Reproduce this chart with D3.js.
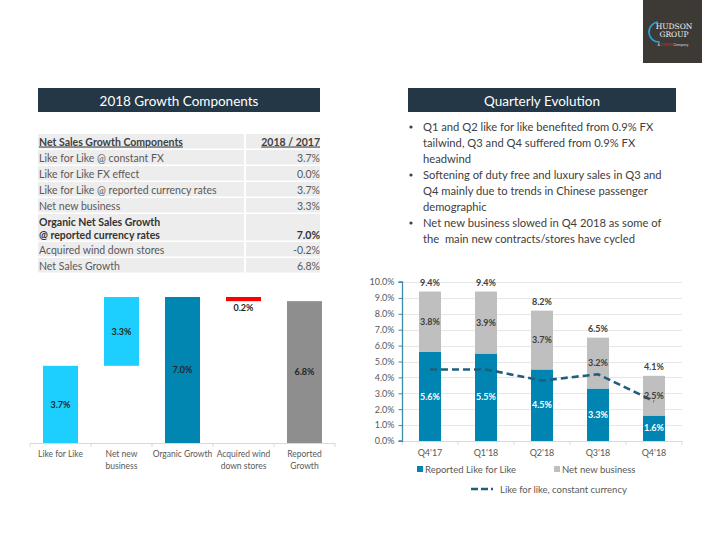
<!DOCTYPE html>
<html><head><meta charset="utf-8">
<script src="https://cdn.jsdelivr.net/npm/d3@7"></script>
<style>body{margin:0;background:#fff}svg{display:block;font-family:Lato,'Open Sans',sans-serif}text{white-space:pre}</style>
</head><body><svg id="c" width="720" height="540"></svg>
<script>
// ---------- DATA ----------
const tableHeader = ["Net Sales Growth Components", "2018 / 2017"];
const tableLabels = [
  ["Like for Like @ constant FX"],
  ["Like for Like FX effect"],
  ["Like for Like @ reported currency rates"],
  ["Net new business"],
  ["Organic Net Sales Growth", "@ reported currency rates"],
  ["Acquired wind down stores"],
  ["Net Sales Growth"]
];
const tableValues = ["3.7%", "0.0%", "3.7%", "3.3%", "7.0%", "-0.2%", "6.8%"];
const tableBold = [false, false, false, false, true, false, false];

const wfCategories = ["Like for Like", "Net new\nbusiness", "Organic Growth", "Acquired wind\ndown stores", "Reported\nGrowth"];
const wfValues = [3.7, 3.3, 7.0, -0.2, 6.8];
const wfIsTotal = [false, false, true, false, true];
const wfLabels = ["3.7%", "3.3%", "7.0%", "0.2%", "6.8%"];

const quarters = ["Q4'17", "Q1'18", "Q2'18", "Q3'18", "Q4'18"];
const reportedLfl = [5.6, 5.5, 4.5, 3.3, 1.6];
const netNewBusiness = [3.8, 3.9, 3.7, 3.2, 2.5];
const totals = [9.4, 9.4, 8.2, 6.5, 4.1];
const lflConstantCurrency = [4.5, 4.5, 3.8, 4.2, 2.5];
const yTicks = [0, 1, 2, 3, 4, 5, 6, 7, 8, 9, 10];

const bullets = [
  ["Q1 and Q2 like for like benefited from 0.9% FX", "tailwind, Q3 and Q4 suffered from 0.9% FX", "headwind"],
  ["Softening of duty free and luxury sales in Q3 and", "Q4 mainly due to trends in Chinese passenger", "demographic"],
  ["Net new business slowed in Q4 2018 as some of", "the  main new contracts/stores have cycled"]
];

// ---------- DRAW ----------
const svg = d3.select("#c");
const navy = "#243746";
const textGray = "#404040";
const axisGray = "#595959";

// Logo
const logo = svg.append("g");
logo.append("rect").attr("x", 643).attr("y", 0).attr("width", 59).attr("height", 63).attr("fill", "#3d3935");
logo.append("path").attr("d", "M658,22 A10,10 0 0 0 660,42").attr("fill", "none").attr("stroke", "#22a6e0").attr("stroke-width", 1.6);
logo.append("text").attr("x", 674).attr("y", 29).attr("text-anchor", "middle").attr("font-family", "'DejaVu Serif',serif").attr("font-size", 7.5).attr("fill", "#f2f2f2").text("HUDSON");
logo.append("text").attr("x", 674).attr("y", 37).attr("text-anchor", "middle").attr("font-family", "'DejaVu Serif',serif").attr("font-size", 7.5).attr("fill", "#f2f2f2").text("GROUP");
const lt = logo.append("text").attr("x", 673).attr("y", 46).attr("text-anchor", "middle").attr("font-size", 3.6).attr("fill", "#ddd");
lt.append("tspan").text("A ");
lt.append("tspan").attr("fill", "#e0202a").text("DUFRY");
lt.append("tspan").text(" Company");

// Headers
[[38, 282, "2018 Growth Components"], [408, 268, "Quarterly Evolution"]].forEach(([x, w, t]) => {
  svg.append("rect").attr("x", x).attr("y", 88).attr("width", w).attr("height", 24).attr("fill", navy);
  svg.append("text").attr("x", x + w / 2).attr("y", 105.5).attr("text-anchor", "middle")
    .attr("font-size", 13.5).attr("fill", "#fff").text(t);
});

// Table
const tX0 = 38, tX1 = 320, tSep = 245;
const rowHeights = [16].concat(tableLabels.map(l => l.length > 1 ? 28 : 16));
let ry = 134;
const tbl = svg.append("g").attr("font-size", 10.5);
rowHeights.forEach((h, i) => {
  tbl.append("rect").attr("x", tX0).attr("y", ry).attr("width", tSep - tX0 - 1).attr("height", h - 1.5).attr("fill", "#ededed");
  tbl.append("rect").attr("x", tSep + 1).attr("y", ry).attr("width", tX1 - tSep - 1).attr("height", h - 1.5).attr("fill", "#ededed");
  if (i === 0) {
    tbl.append("text").attr("x", tX0 + 1).attr("y", ry + 11.5).attr("font-weight", "bold").attr("fill", textGray).attr("text-decoration", "underline").text(tableHeader[0]);
    tbl.append("text").attr("x", tX1).attr("y", ry + 11.5).attr("text-anchor", "end").attr("font-weight", "bold").attr("fill", textGray).attr("text-decoration", "underline").text(tableHeader[1]);
  } else {
    const k = i - 1;
    const lines = tableLabels[k];
    lines.forEach((ln, j) => {
      tbl.append("text").attr("x", tX0 + 1).attr("y", ry + 11.5 + j * 13.5)
        .attr("font-weight", tableBold[k] ? "bold" : "normal").attr("fill", tableBold[k] ? "#333" : "#595959").text(ln);
    });
    tbl.append("text").attr("x", tX1).attr("y", ry + 11.5 + (lines.length - 1) * 13.5).attr("text-anchor", "end")
      .attr("font-weight", tableBold[k] ? "bold" : "normal").attr("fill", tableBold[k] ? "#333" : "#595959").text(tableValues[k]);
  }
  ry += h;
});

// Bullets
const bl = svg.append("g").attr("font-size", 11.2).attr("fill", textGray);
let by = 131;
bullets.forEach(b => {
  bl.append("circle").attr("cx", 411).attr("cy", by - 4).attr("r", 1.6).attr("fill", textGray);
  b.forEach(line => {
    bl.append("text").attr("x", 423).attr("y", by).text(line);
    by += 16;
  });
});

// Waterfall
const wx = d3.scaleBand().domain(wfCategories).range([30, 335]).paddingInner(0.426).paddingOuter(0.213);
const wy = d3.scaleLinear().domain([0, 10]).range([443, 443 - 208.6]);
let running = 0;
const wfBars = wfValues.map((v, i) => {
  let lo, hi, color;
  if (wfIsTotal[i]) { lo = 0; hi = v; running = v; color = i === 2 ? "#0086b0" : "#8e8e8e"; }
  else { const s = running; running += v; lo = Math.min(s, running); hi = Math.max(s, running); color = v < 0 ? "#ff0000" : "#1dcfff"; }
  return { c: wfCategories[i], lo, hi, color, label: wfLabels[i], neg: v < 0 };
});
const wf = svg.append("g");
wf.selectAll("rect.b").data(wfBars).enter().append("rect")
  .attr("x", d => wx(d.c)).attr("width", wx.bandwidth())
  .attr("y", d => wy(d.hi)).attr("height", d => wy(d.lo) - wy(d.hi)).attr("fill", d => d.color);
wf.selectAll("text.l").data(wfBars).enter().append("text")
  .attr("x", d => wx(d.c) + wx.bandwidth() / 2)
  .attr("y", d => d.neg ? wy(d.lo) + 9.5 : (wy(d.lo) + wy(d.hi)) / 2 + 3.2)
  .attr("text-anchor", "middle").attr("font-size", 9).attr("font-weight", "bold").attr("fill", "#262626")
  .text(d => d.label);
wf.append("line").attr("x1", 30).attr("x2", 335).attr("y1", 443.5).attr("y2", 443.5).attr("stroke", "#d9d9d9");
const bounds = wfCategories.map(c => wx(c) - wx.step() * wx.paddingInner() / 2).concat([335]);
bounds.forEach(b => wf.append("line").attr("x1", b).attr("x2", b).attr("y1", 443).attr("y2", 447).attr("stroke", "#d9d9d9"));
wfCategories.forEach(c => {
  c.split("\n").forEach((ln, j) => {
    wf.append("text").attr("x", wx(c) + wx.bandwidth() / 2).attr("y", 457 + j * 11.5).attr("text-anchor", "middle")
      .attr("font-size", 8.5).attr("fill", axisGray).text(ln);
  });
});

// Quarterly chart
const qx = d3.scaleBand().domain(quarters).range([402, 682]).paddingInner(0.607).paddingOuter(0.3035);
const qy = d3.scaleLinear().domain([0, 10]).range([441, 282]);
const q = svg.append("g");
q.selectAll("line.g").data(yTicks.slice(1)).enter().append("line")
  .attr("x1", 402).attr("x2", 682).attr("y1", d => Math.round(qy(d)) + 0.5).attr("y2", d => Math.round(qy(d)) + 0.5)
  .attr("stroke", "#e6e6e6");
q.append("line").attr("x1", 402).attr("x2", 682).attr("y1", qy(0) + 0.5).attr("y2", qy(0) + 0.5).attr("stroke", "#d9d9d9");
d3.range(quarters.length + 1).forEach(i => {
  const xx = 402 + i * qx.step();
  q.append("line").attr("x1", xx).attr("x2", xx).attr("y1", 441).attr("y2", 445).attr("stroke", "#d9d9d9");
});
const yAxis = d3.axisLeft(qy).tickValues(yTicks).tickSize(4).tickFormat(d => d.toFixed(1) + "%");
const ya = q.append("g").attr("transform", "translate(402.5,0)").call(yAxis);
ya.select(".domain").attr("stroke", "#3e8baa").attr("stroke-width", 1.3).attr("d", "M-4," + qy(10) + "H0V" + qy(0) + "H-4");
ya.selectAll(".tick line").attr("stroke", "#3e8baa");
ya.selectAll(".tick text").attr("font-size", 9).attr("fill", axisGray).attr("font-family", "Lato,'Open Sans',sans-serif").attr("x", -8);
q.selectAll("rect.r").data(quarters).enter().append("rect")
  .attr("x", d => qx(d)).attr("width", qx.bandwidth())
  .attr("y", (d, i) => qy(reportedLfl[i])).attr("height", (d, i) => qy(0) - qy(reportedLfl[i])).attr("fill", "#0085b2");
q.selectAll("rect.n").data(quarters).enter().append("rect")
  .attr("x", d => qx(d)).attr("width", qx.bandwidth())
  .attr("y", (d, i) => qy(reportedLfl[i] + netNewBusiness[i])).attr("height", (d, i) => qy(reportedLfl[i]) - qy(reportedLfl[i] + netNewBusiness[i])).attr("fill", "#bfbfbf");
const cx = d => qx(d) + qx.bandwidth() / 2;
q.append("path").datum(quarters).attr("fill", "none").attr("stroke", "#1e5f7c").attr("stroke-width", 2.6)
  .attr("stroke-dasharray", "7,4")
  .attr("d", d3.line().x(d => cx(d)).y((d, i) => qy(lflConstantCurrency[i])));
quarters.forEach((d, i) => {
  q.append("text").attr("x", cx(d)).attr("y", (qy(0) + qy(reportedLfl[i])) / 2 + 3.2).attr("text-anchor", "middle")
    .attr("font-size", 9).attr("font-weight", "bold").attr("fill", "#fff").text(reportedLfl[i].toFixed(1) + "%");
  q.append("text").attr("x", cx(d)).attr("y", (qy(reportedLfl[i]) + qy(reportedLfl[i] + netNewBusiness[i])) / 2 + 3.2).attr("text-anchor", "middle")
    .attr("font-size", 9).attr("font-weight", "bold").attr("fill", "#404040").text(netNewBusiness[i].toFixed(1) + "%");
  q.append("text").attr("x", cx(d)).attr("y", qy(totals[i]) - 6).attr("text-anchor", "middle")
    .attr("font-size", 9).attr("font-weight", "bold").attr("fill", "#404040").text(totals[i].toFixed(1) + "%");
  q.append("text").attr("x", cx(d)).attr("y", 456).attr("text-anchor", "middle")
    .attr("font-size", 9).attr("fill", axisGray).text(d);
});
const lg = svg.append("g").attr("font-size", 9.5).attr("fill", axisGray);
lg.append("rect").attr("x", 417).attr("y", 466).attr("width", 6).attr("height", 6).attr("fill", "#0085b2");
lg.append("text").attr("x", 425).attr("y", 472.5).text("Reported Like for Like");
lg.append("rect").attr("x", 554).attr("y", 466).attr("width", 6).attr("height", 6).attr("fill", "#bfbfbf");
lg.append("text").attr("x", 562).attr("y", 472.5).text("Net new business");
lg.append("line").attr("x1", 471).attr("x2", 494).attr("y1", 489).attr("y2", 489).attr("stroke", "#1e5f7c").attr("stroke-width", 2.6).attr("stroke-dasharray", "7,3,7,3,2,10");
lg.append("text").attr("x", 500).attr("y", 492.5).text("Like for like, constant currency");
</script></body></html>
